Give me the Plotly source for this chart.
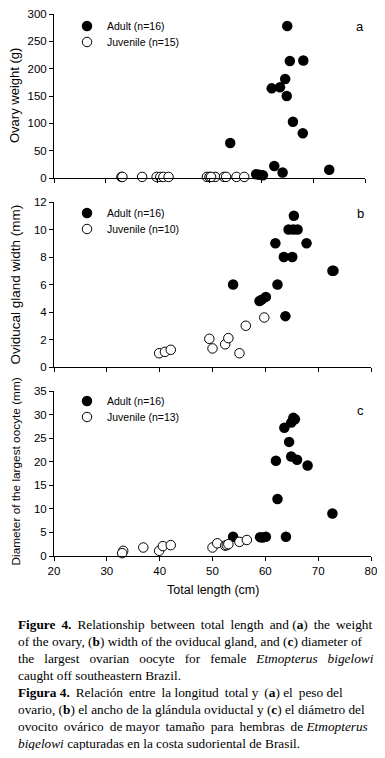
import plotly.graph_objects as go

# ---------------- data ----------------
# Panel a: ovary weight (g)
a_adult_x = [65.0, 65.5, 68.1, 64.6, 62.0, 63.6, 64.9, 66.1, 68.0, 54.0, 62.5, 64.1, 73.1, 59.0, 59.6, 60.3]
a_adult_y = [278, 214, 215, 181, 164, 166, 150, 103, 82, 64, 22, 10, 15, 7, 6, 5]
a_juv_x = [33.0, 33.2, 37.0, 39.8, 40.5, 41.1, 42.1, 49.5, 50.0, 51.1, 52.8, 53.2, 55.2, 56.7, 50.3]
a_juv_y = [2, 2, 2, 2, 2, 2, 2, 2, 2, 2, 2, 2, 2, 2, 2]

# Panel b: oviducal gland width (mm)
b_adult_x = [65.4, 64.4, 65.3, 66.1, 61.9, 67.8, 63.5, 65.1, 72.7, 72.9, 53.9, 62.3, 58.9, 59.3, 60.1, 63.8]
b_adult_y = [11.0, 10.0, 10.0, 10.0, 9.0, 9.0, 8.0, 8.0, 7.0, 7.0, 6.0, 6.0, 4.8, 4.9, 5.1, 3.7]
b_juv_x = [39.9, 41.0, 42.1, 49.4, 50.0, 52.4, 53.0, 55.1, 56.3, 59.8]
b_juv_y = [1.0, 1.1, 1.25, 2.05, 1.35, 1.65, 2.1, 1.0, 3.0, 3.6]

# Panel c: diameter of the largest oocyte (mm)
c_adult_x = [65.3, 64.9, 65.6, 63.6, 64.5, 64.9, 66.0, 62.0, 68.0, 62.3, 72.7, 53.9, 59.0, 59.5, 60.1, 63.9]
c_adult_y = [29.3, 28.3, 29.0, 27.2, 24.2, 21.1, 20.4, 20.2, 19.2, 12.1, 9.0, 4.1, 4.0, 3.9, 4.1, 4.1]
c_juv_x = [33.1, 32.9, 36.9, 39.9, 40.6, 42.1, 50.0, 50.9, 52.4, 52.7, 53.0, 55.1, 56.5]
c_juv_y = [1.1, 0.6, 1.8, 1.1, 2.1, 2.3, 1.8, 2.7, 2.2, 2.3, 2.5, 3.0, 3.4]

x_ticks = [20, 30, 40, 50, 60, 70, 80]
panel_letters = ["a", "b", "c"]
y_titles = ["Ovary weight (g)", "Oviducal gland width (mm)", "Diameter of the largest oocyte (mm)"]
y_ranges = [[0, 300], [0, 12], [0, 35]]
y_dticks = [50, 2, 5]
adult_names = ["Adult (n=16)", "Adult (n=16)", "Adult (n=16)"]
juv_names = ["Juvenile (n=15)", "Juvenile (n=10)", "Juvenile (n=13)"]
x_title = "Total length (cm)"

TS = "\u2009"   # thin space, used to emulate justified caption lines
NB = "&nbsp;"
caption_lines = [
    "<b>Figure" + TS + " 4.</b>" + TS + " Relationship" + TS + " between" + TS + " total" + TS + " length" + TS
    + " and (<b>a</b>)" + TS + " the" + TS + " weight",
    "of the ovary, (<b>b</b>) width of the oviducal gland, and (<b>c</b>) diameter of",
    "the" + NB + NB + " largest" + NB + NB + " ovarian" + NB + NB + " oocyte" + NB + NB + " for" + NB + NB
    + " female" + NB + NB + " <i>Etmopterus" + NB + NB + " bigelowi</i>",
    "caught off southeastern Brazil.",
    "<b>Figura 4.</b>" + TS + " Relación" + TS + " entre" + TS + " la longitud" + TS + " total y" + TS
    + " (<b>a</b>) el" + TS + " peso del",
    "ovario, (<b>b</b>) el ancho de la glándula oviductal y (<b>c</b>) el diámetro del",
    "ovocito" + TS + " ovárico" + TS + " de mayor" + TS + " tamaño" + TS + " para" + TS + " hembras" + TS
    + " de <i>Etmopterus</i>",
    "<i>bigelowi</i> capturadas en la costa sudoriental de Brasil.",
]

# ---------------- layout geometry ----------------
# The page body has an 8px default margin, so page pixel p maps to figure pixel p - 8.
OFF = 8
W, H = 385 - 2 * OFF, 758 - 2 * OFF
PL, PR, PT, PB = 54, 371, 14, 556          # plot area in page pixels
ML, MR, MT, MB = PL - OFF, W - (PR - OFF), PT - OFF, H - (PB - OFF)
PW = W - ML - MR
PH = H - MT - MB
def fy(py):
    return (PB - py) / PH
def fx(px):
    return (px - PL) / PW

domains_y = [[fy(178), fy(14)], [fy(367), fy(202)], [0, fy(391)]]
domains_x = [[0, fx(365)], [0, 1], [0, 1]]

SANS = "Liberation Sans, Arial, sans-serif"
SERIF = "Liberation Serif, Times New Roman, serif"

fig = go.Figure()
data = [(a_adult_x, a_adult_y, a_juv_x, a_juv_y),
        (b_adult_x, b_adult_y, b_juv_x, b_juv_y),
        (c_adult_x, c_adult_y, c_juv_x, c_juv_y)]

for i, (ax_, ay_, jx_, jy_) in enumerate(data):
    sfx = "" if i == 0 else str(i + 1)
    fig.add_trace(go.Scatter(
        x=ax_, y=ay_, mode="markers", name=adult_names[i],
        xaxis="x" + sfx, yaxis="y" + sfx, legend="legend" + ("" if i == 0 else str(2 * i + 1)),
        cliponaxis=False,
        marker=dict(size=10.5, color="black", line=dict(width=0))))
    fig.add_trace(go.Scatter(
        x=jx_, y=jy_, mode="markers", name=juv_names[i],
        xaxis="x" + sfx, yaxis="y" + sfx, legend="legend" + str(2 * i + 2),
        cliponaxis=False,
        marker=dict(size=9.5, color="white", symbol="circle",
                    line=dict(width=1, color="black"))))

layout = dict(
    width=W, height=H, paper_bgcolor="white", plot_bgcolor="white",
    margin=dict(l=ML, r=MR, t=MT, b=MB, autoexpand=False),
    showlegend=True, font=dict(family=SANS, size=11, color="black"),
)

legend_rows = [(26, 42), (213, 229), (401, 417)]
for i in range(3):
    sfx = "" if i == 0 else str(i + 1)
    xa = dict(domain=domains_x[i], range=[20, 80], tickvals=x_ticks,
              showline=True, linecolor="black", linewidth=1,
              ticks="outside", ticklen=4, tickcolor="black", tickwidth=1,
              showgrid=False, zeroline=False, automargin=False,
              ticklabeloverflow="allow",
              anchor="y" + sfx, showticklabels=(i == 2),
              tickfont=dict(family=SANS, size=11.5))
    ya = dict(domain=domains_y[i], range=y_ranges[i], dtick=y_dticks[i], tick0=0,
              showline=True, linecolor="black", linewidth=1,
              ticks="outside", ticklen=4, tickcolor="black", tickwidth=1,
              showgrid=False, zeroline=False, anchor="x" + sfx, automargin=False,
              ticklabeloverflow="allow",
              tickfont=dict(family=SANS, size=11.5))
    layout["xaxis" + sfx] = xa
    layout["yaxis" + sfx] = ya
    for r in range(2):
        n = 2 * i + r + 1
        key = "legend" if n == 1 else "legend" + str(n)
        layout[key] = dict(x=fx(67), xanchor="left", y=fy(legend_rows[i][r]), yanchor="middle",
                           xref="paper", yref="paper", borderwidth=0,
                           bgcolor="rgba(0,0,0,0)", font=dict(family=SANS, size=10.5),
                           itemsizing="trace")

fig.update_layout(**layout)

# y-axis titles
title_x = [15, 15, 15.5]
title_size = [13, 13.5, 11.8]
title_cy = [96, 284.5, 472]
for i in range(3):
    fig.add_annotation(text=y_titles[i], x=fx(title_x[i]), y=fy(title_cy[i]), xref="paper", yref="paper",
                       showarrow=False, textangle=-90, xanchor="center", yanchor="middle",
                       font=dict(family=SANS, size=title_size[i], color="black"))

# x-axis title
fig.add_annotation(text=x_title, x=fx(213), y=fy(590), xref="paper", yref="paper",
                   showarrow=False, xanchor="center", yanchor="middle",
                   font=dict(family=SANS, size=12.5, color="black"))

# panel letters
letter_py = [26, 213, 410]
for i, t in enumerate(panel_letters):
    fig.add_annotation(text=t, x=fx(360), y=fy(letter_py[i]), xref="paper", yref="paper",
                       showarrow=False, xanchor="center", yanchor="middle",
                       font=dict(family=SANS, size=13, color="black"))

# caption
for k, line in enumerate(caption_lines):
    fig.add_annotation(text=line, x=fx(16), y=fy(624 + 17.1 * k), xref="paper", yref="paper",
                       showarrow=False, xanchor="left", yanchor="middle", align="left",
                       font=dict(family=SERIF, size=13.3, color="black"))

fig.write_html("out.html")
